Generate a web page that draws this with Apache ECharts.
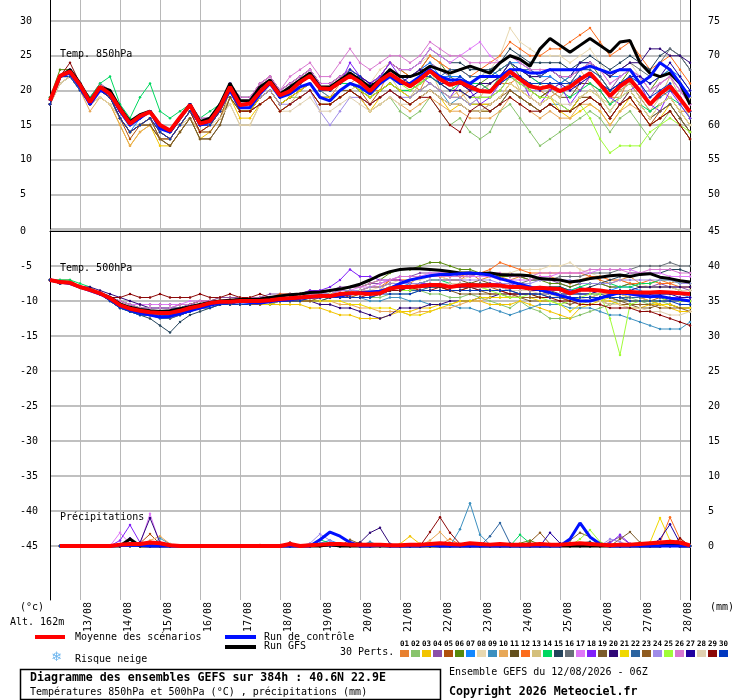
<!DOCTYPE html>
<html>
<head>
<meta charset="utf-8">
<script src="https://cdn.jsdelivr.net/npm/echarts@6/dist/echarts.min.js"></script>
<style>
html, body { margin: 0; padding: 0; background: #fff; }
#chart { width: 740px; height: 700px; }
</style>
</head>
<body>
<div id="chart"></div>
<script>
// GEFS ensemble diagram, run 12/08/2026 06Z, one value every 6 h from h=0 to h=384
const stepHours = 6;
const precipStart = 6;
const dateHours = [18, 42, 66, 90, 114, 138, 162, 186, 210, 234, 258, 282, 306, 330, 354, 378];
const dateLabels = ['13/08', '14/08', '15/08', '16/08', '17/08', '18/08', '19/08', '20/08',
    '21/08', '22/08', '23/08', '24/08', '25/08', '26/08', '27/08', '28/08'];
const leftTopTicks = [5, 10, 15, 20, 25, 30];
const rightTopTicks = [50, 55, 60, 65, 70, 75];
const leftBottomTicks = [-45, -40, -35, -30, -25, -20, -15, -10, -5, 0];
const rightBottomTicks = [0, 5, 10, 15, 20, 25, 30, 35, 40, 45];

const memberColors = ['#e8802f', '#88c46c', '#f2c400', '#8c50a8', '#b0500c', '#588a0c', '#1488ff', '#e8d8b0',
    '#3c90c0', '#e8a858', '#64501c', '#fc6c1c', '#d4c07c', '#00d860', '#24445c', '#687078', '#e078f8',
    '#8020f8', '#7c5c2c', '#300878', '#f0d800', '#2c64a0', '#905c20', '#a08ce8', '#a0fc38', '#d878d0',
    '#2000a0', '#e0d0b0', '#8c0808', '#0038c0'];

// temperature 850 hPa (°C)
const t850Mean = [18.5,22.1,22.7,20.8,18.3, 20.5,19.5,17.3,15.2,16.3, 16.9,15.0,14.2,16.1,17.9, 15.2,15.6,17.6,20.5,17.9,
    18.1,19.8,21.2,19.3,19.9, 21.2,22.1,20.3,20.2,21.2, 22.1,21.2,19.9,21.4,22.4, 21.4,20.6,21.6,22.8,21.6,
    20.8,21.2,20.5,19.9,19.8, 21.4,22.7,21.6,20.6,20.3, 20.6,19.9,20.5,21.6,22.5, 20.9,19.2,20.6,21.6,19.9,
    18.0,19.5,20.6,18.8,16.9];
const t850Control = [18.5,22,22.5,20.5,18, 20,19.5,17,15,16, 17,14.5,14,16,18, 15,15.5,17.5,20,17.5,
    17.5,19.5,21,19,19.5, 20.5,21,19,18.5,20, 21,20.5,19.5,21,22, 21,21,22,23,22,
    21.5,21.5,21,22,22, 22,23,23,22.5,22.5, 23,23,23,23,23.5, 23,22.5,23,23,21,
    22,24,23,21,19];
const t850Gfs = [18.5,22,23,21,18.5, 20.5,20,17.5,15.5,16.5, 17,15,14,16,18, 15.5,16,18,21,18.5,
    18.5,20.5,21.5,19.5,20.5, 21.5,22.5,20.5,20.5,21.5, 22.5,21.5,20.5,21.5,23, 22,22,22.5,23.5,23,
    22.5,23,23.5,23,22.5, 24,25,24.5,23.5,26, 27.5,26.5,25.5,26.5,27.5, 26.5,25.5,27,27.2,24,
    22.5,22,22.5,21,18];
const t850Perts = [
    [18,22,22,20,18, 20,19,16,14,15, 16,14,13,15,17, 15,15,17,20,18, 18,20,21,19,20, 21,22,20,19,21, 21,22,20,20,23, 22,21,20,23,22, 21,19,20,21,20, 21,21,22,21,20, 19,20,21,20,22, 21,19,19,22,20, 18,20,19,17,17],
    [18,22,23,21,18, 20,19,16,14,15, 16,14,13,15,17, 14,15,17,20,17, 17,19,20,18,19, 19,20,18,18,19, 20,19,17,18,19, 17,16,17,19,17, 15,16,14,13,14, 17,18,16,14,12, 13,14,15,16,17, 16,14,16,17,15, 13,15,17,15,13],
    [18,21,22,20,18, 19,18,15,12,14, 15,12,12,14,16, 13,14,16,19,16, 16,18,19,17,18, 19,20,18,18,19, 20,19,17,19,20, 19,18,19,20,19, 17,18,17,17,17, 18,20,19,18,17, 18,17,16,17,18, 17,15,17,19,17, 15,16,18,16,14],
    [18,22,23,21,19, 21,20,17,15,16, 17,15,14,16,18, 16,16,18,21,19, 19,21,22,20,21, 22,23,21,21,22, 23,22,21,22,23, 22,22,23,24,23, 22,22,21,21,21, 22,24,23,22,21, 22,21,21,23,23, 22,20,22,23,21, 19,21,22,20,18],
    [18,22,23,20,18, 20,19,16,13,15, 16,13,13,15,17, 14,15,17,20,17, 17,19,20,18,19, 20,21,19,19,20, 21,20,18,20,21, 20,19,20,21,20, 19,19,18,18,18, 19,21,20,19,18, 19,18,17,19,19, 18,16,18,19,17, 15,17,18,16,14],
    [19,23,23,21,18, 20,20,17,15,16, 17,15,14,16,18, 15,16,18,21,18, 18,20,21,19,20, 21,22,20,20,21, 23,22,21,22,24, 23,22,23,25,24, 22,21,20,21,22, 23,24,22,20,19, 20,21,22,23,24, 22,20,21,23,22, 20,22,23,21,19],
    [18,21,22,20,18, 20,19,16,14,16, 17,14,13,15,17, 15,15,17,20,18, 18,20,21,19,20, 21,22,20,20,21, 21,20,20,22,23, 22,22,23,24,22, 22,22,21,22,23, 22,24,24,23,22, 22,21,22,24,24, 23,22,22,23,22, 21,22,23,22,20],
    [18,22,23,21,18, 20,19,17,15,16, 17,15,14,16,18, 15,16,18,21,18, 18,20,21,20,21, 22,23,21,21,22, 23,22,21,23,24, 23,23,24,25,24, 23,23,22,22,23, 25,29,27,26,25, 25,25,24,25,26, 24,22,23,24,22, 20,21,22,21,19],
    [18,22,22,20,18, 20,19,16,14,15, 16,14,13,15,17, 15,15,17,20,18, 18,20,21,19,20, 21,22,20,19,20, 21,20,19,20,21, 20,19,20,21,20, 18,19,18,18,17, 18,20,19,18,17, 18,18,17,19,20, 19,17,19,20,18, 16,17,18,16,14],
    [18,21,22,20,17, 19,18,15,12,14, 15,13,12,14,16, 14,14,16,19,17, 17,18,19,17,18, 19,20,18,18,19, 20,19,17,18,19, 18,17,18,19,18, 17,17,16,16,16, 17,19,18,17,16, 17,16,16,18,18, 17,15,17,18,17, 15,16,17,15,13],
    [18,22,22,20,18, 20,19,16,14,15, 15,13,12,14,16, 13,13,15,19,17, 17,19,20,18,19, 20,21,19,19,20, 21,20,19,20,21, 20,20,21,22,21, 20,20,19,19,19, 20,22,21,20,19, 20,19,19,21,21, 20,18,20,21,19, 17,18,19,17,15],
    [18,22,23,21,18, 20,19,17,15,16, 17,15,14,16,18, 15,16,18,21,19, 19,21,22,20,21, 22,23,21,21,22, 23,22,21,22,24, 23,22,23,25,24, 23,23,22,23,24, 25,27,26,25,25, 26,26,27,28,29, 27,25,26,27,25, 23,24,25,23,21],
    [18,21,22,20,18, 19,18,16,14,15, 16,14,13,15,16, 14,15,17,18,15, 15,18,19,17,18, 20,21,19,19,20, 20,21,19,21,22, 20,19,21,23,20, 19,20,18,19,21, 22,23,20,19,21, 20,19,21,23,21, 19,18,20,21,19, 17,19,22,19,16],
    [19,22,23,21,19, 21,22,18,16,19, 21,17,16,17,18, 16,17,18,21,19, 19,20,21,19,20, 21,22,20,20,21, 21,20,19,20,21, 20,20,21,22,21, 20,21,21,21,20, 22,23,23,22,21, 21,20,19,20,21, 20,18,19,20,18, 17,18,19,18,16],
    [18,22,23,21,18, 20,19,17,15,16, 17,15,14,16,18, 15,16,18,21,19, 19,21,22,20,21, 22,23,21,21,22, 23,22,21,22,24, 23,23,24,26,25, 24,24,23,23,23, 24,26,25,24,24, 24,24,23,24,25, 24,23,24,25,24, 23,25,26,25,23],
    [18,22,23,21,18, 20,19,17,15,16, 17,15,14,16,18, 15,16,18,21,18, 18,20,21,19,20, 21,22,20,20,21, 22,21,20,21,22, 21,21,22,23,22, 21,21,20,20,21, 22,24,23,22,22, 23,22,22,23,24, 23,22,23,24,23, 22,24,26,25,23],
    [18,22,23,21,18, 20,19,17,15,16, 17,15,14,16,18, 15,16,18,21,19, 19,21,22,20,21, 22,23,21,21,22, 23,22,21,22,24, 23,23,24,26,25, 24,25,26,27,25, 24,25,24,23,22, 23,22,22,23,24, 23,21,22,23,22, 20,21,22,20,18],
    [18,22,23,21,18, 20,19,17,15,16, 17,14,13,15,17, 15,15,17,20,18, 18,20,21,19,20, 21,22,20,20,21, 24,22,21,22,24, 22,21,22,21,20, 19,21,20,18,19, 21,23,22,19,18, 20,21,18,20,22, 21,19,18,20,21, 18,17,20,18,16],
    [18,22,22,20,18, 20,19,16,14,15, 16,13,12,14,16, 13,13,15,19,17, 17,19,20,18,19, 20,21,19,19,20, 20,19,18,19,20, 19,18,19,20,19, 18,18,17,17,17, 18,20,19,18,17, 18,17,17,19,19, 18,16,18,20,18, 16,17,18,16,14],
    [18,22,23,21,18, 20,19,17,15,16, 17,15,14,16,18, 15,16,18,21,18, 18,20,21,19,20, 21,22,20,20,21, 22,21,20,21,22, 21,21,22,23,22, 21,21,20,21,21, 22,24,23,22,22, 23,22,22,24,24, 23,22,23,24,24, 26,26,25,25,24],
    [18,22,23,21,18, 20,19,16,14,15, 16,14,13,15,17, 14,15,17,20,17, 17,19,20,18,19, 20,21,19,19,20, 21,20,19,20,21, 20,19,20,21,20, 19,19,18,18,18, 19,21,20,19,18, 19,17,17,19,20, 19,17,19,20,18, 16,18,19,17,15],
    [18,22,23,21,18, 20,19,17,15,16, 17,15,14,16,18, 15,16,18,21,18, 18,20,21,19,20, 21,22,20,20,21, 22,21,20,21,23, 22,21,22,23,22, 23,23,22,22,22, 23,24,23,23,22, 23,22,21,23,23, 22,20,21,22,20, 18,19,20,19,17],
    [18,22,23,21,18, 20,19,16,14,15, 15,13,13,15,17, 14,14,16,20,17, 17,18,19,17,18, 19,20,18,18,19, 20,19,18,19,20, 19,18,19,20,19, 18,18,17,17,18, 19,20,19,18,17, 18,17,17,18,19, 18,16,18,19,17, 15,16,17,15,13],
    [18,22,23,21,18, 20,19,17,15,16, 17,15,14,16,18, 15,16,18,21,18, 18,19,20,18,18, 19,20,17,15,17, 19,19,18,19,20, 19,19,20,21,20, 19,19,18,19,19, 20,22,21,20,20, 21,20,20,21,22, 21,19,21,22,20, 18,20,21,19,17],
    [18,22,23,21,18, 20,19,17,15,16, 17,15,14,16,18, 15,16,18,21,18, 18,20,21,19,20, 21,22,20,20,21, 22,21,20,21,22, 21,20,21,22,21, 20,20,19,19,19, 20,22,21,20,19, 19,18,17,18,16, 13,11,12,12,12, 14,15,16,15,14],
    [18,22,23,21,18, 20,19,17,15,16, 17,15,14,16,18, 16,16,18,21,19, 19,21,22,20,22, 23,24,22,22,24, 26,24,23,24,25, 25,24,25,27,26, 25,25,24,24,24, 24,25,24,23,23, 23,22,22,23,24, 23,21,22,23,22, 20,21,22,20,18],
    [18,22,23,21,18, 20,19,17,15,16, 17,15,14,16,18, 15,16,18,21,18, 18,20,21,19,20, 21,22,20,20,21, 22,22,21,21,22, 21,22,23,23,21, 20,20,19,20,20, 21,22,22,21,20, 21,21,20,21,22, 21,20,21,22,22, 21,22,24,22,20],
    [18,21,22,20,18, 19,18,16,14,15, 16,14,13,15,17, 14,15,16,18,15, 15,18,19,17,17, 18,19,17,17,18, 19,18,17,18,19, 18,18,19,20,19, 18,18,17,17,18, 19,21,20,19,18, 19,18,18,19,20, 19,17,19,20,18, 16,18,19,17,15],
    [18,22,24,21,18, 20,19,16,14,15, 16,14,13,15,17, 14,15,17,20,17, 17,18,19,17,18, 19,20,18,18,19, 20,19,18,19,20, 19,18,19,19,17, 15,14,17,18,17, 18,19,18,17,17, 18,17,17,18,19, 18,16,18,19,17, 15,16,17,15,13],
    [18,22,22,20,18, 20,19,16,14,15, 16,14,13,15,17, 15,15,17,20,18, 18,20,21,19,20, 21,22,20,20,21, 23,22,20,21,22, 21,21,22,22,21, 21,22,21,20,20, 21,22,22,21,21, 21,21,21,22,22, 21,20,21,22,21, 19,20,21,19,17]
];

// temperature 500 hPa (°C)
const t500Mean = [-7,-7.3,-7.4,-8,-8.4,-8.9,-9.6,-10.6,-11.1,-11.4, -11.6,-11.7,-11.7,-11.4,-11,-10.7,-10.3,-10.1,-10.1,-10,
    -10,-10,-9.9,-9.7,-9.6,-9.5,-9.4,-9.3,-9.3,-9, -8.9,-8.9,-9,-8.9,-8.2,-8,-8,-7.9,-7.7,-7.7,
    -8,-7.8,-7.7,-7.8,-7.7,-7.8,-8,-8,-8.2,-8.1, -8.2,-8.3,-8.9,-8.4,-8.4,-8.5,-8.7,-8.7,-8.7,-8.8,
    -8.8,-8.7,-8.8,-8.9,-9];
const t500Control = [-7,-7.3,-7.5,-8,-8.5,-9,-9.7,-10.7,-11.3,-11.7,-12,-12.3,-12.2,-11.8,-11.4,-11,-10.6,-10.3,-10.2,-10.1,
    -10.2,-10.3,-10.1,-9.9,-9.8,-9.6,-9.5,-9.4,-9.3,-9.2,-9,-8.8,-8.7,-8.6,-8.2,-7.5,-7,-6.7,-6.4,-6.2,
    -6.2,-6.1,-6,-6.1,-6.3,-6.8,-7.2,-7.6,-8,-8.4,-8.8,-9.2,-9.6,-10,-10,-9.6,-9.2,-8.8,-9,-9.2,
    -9.4,-9.3,-9.6,-9.8,-10];
const t500Gfs = [-7,-7.3,-7.4,-8,-8.4,-8.9,-9.5,-10.4,-10.9,-11.2,-11.4,-11.5,-11.4,-11.1,-10.8,-10.5,-10.2,-10,-9.9,-9.8,
    -9.8,-9.7,-9.5,-9.3,-9.1,-9,-8.8,-8.7,-8.5,-8.3,-8,-7.6,-7,-6.3,-5.8,-5.5,-5.4,-5.4,-5.5,-5.6,
    -5.8,-6,-6,-6.1,-6,-6.2,-6.3,-6.3,-6.4,-6.8,-6.9,-7,-7.3,-7.1,-6.8,-6.6,-6.4,-6.3,-6.5,-6.2,
    -6.1,-6.6,-6.8,-7.1,-7.3];
const t500Perts = [
    [-7,-7.5,-7.5,-8,-8.5,-9,-9.5,-10,-10.5,-11,-11,-11,-11,-11,-10.5,-10,-10,-9.5,-9.5,-9.5, -10,-10,-9.5,-9.5,-9,-9.5,-9.5,-9,-9.5,-9,-8.5,-9,-9,-8.5,-7,-7,-7.5,-6.5,-6.5,-6.5, -7,-7,-6,-7,-6.5,-6.5,-7,-6.5,-7,-6.5,-6.5,-7,-7.5,-7,-6.5,-7,-7.5,-7,-6.5,-7.5, -7.5,-7,-7.5,-7,-7.5],
    [-7,-7.5,-7.5,-8,-8.5,-9,-9.5,-10.5,-11,-11.5,-12,-12,-12,-11.5,-11,-11,-10.5,-10.5,-10,-10, -10,-10.5,-10,-10,-10,-9.5,-10,-10,-9.5,-9.5,-9.5,-9.5,-9.5,-9.5,-9,-9,-9,-8.5,-9,-9, -9.5,-9.5,-9,-9.5,-10,-10.5,-11,-10,-11,-11.5,-12.5,-12.5,-12.5,-12,-11.5,-11,-10.5,-10,-9.5,-10, -10.5,-10,-10.5,-11,-11],
    [-7,-7.5,-7.5,-8,-8.5,-9,-10,-11,-11.5,-12,-12,-12,-12,-12,-11.5,-11,-11,-10.5,-10.5,-10.5, -10.5,-10.5,-10.5,-10.5,-10.5,-10.5,-11,-11,-11.5,-12,-12,-12.5,-12.5,-12.5,-12,-11.5,-11.5,-11,-11,-10.5, -10.5,-10,-10,-10,-10.5,-10.5,-10.5,-10,-10.5,-11,-11.5,-12,-12.5,-11,-10.5,-10,-10,-10.5,-11,-11, -10.5,-10.5,-11,-11.5,-11.5],
    [-7,-7,-7.5,-8,-8.5,-9,-9.5,-10,-10.5,-11,-11,-11,-11,-10.5,-10.5,-10,-10,-9.5,-9.5,-9.5, -9.5,-9.5,-9,-9,-9,-9,-8.5,-8.5,-8.5,-8,-8,-8,-7.5,-7.5,-7,-6.5,-6.5,-6,-6,-6, -6,-6.5,-6.5,-6,-6,-6.5,-6,-6.5,-7,-7,-7,-7.5,-8,-7.5,-7.5,-7.5,-8,-8,-7.5,-8, -8,-7.5,-8,-8,-8.5],
    [-7,-7.5,-7.5,-8,-8.5,-9,-9.5,-10.5,-11,-11.5,-11.5,-12,-12.5,-12,-11.5,-11,-10.5,-10.5,-10.5,-10, -10,-10,-10,-10,-9.5,-9.5,-9.5,-9.5,-9.5,-9,-9,-9,-9,-9,-8.5,-8.5,-8,-8,-8,-8, -8.5,-8.5,-8,-8,-8,-8.5,-9,-9,-9,-9,-9.5,-9.5,-10,-9.5,-9.5,-9,-9,-9,-9.5,-9.5, -10,-9.5,-9.5,-10,-10],
    [-7,-7,-7,-8,-8.5,-9,-9.5,-10.5,-11,-11,-11.5,-11.5,-11.5,-11,-10.5,-10.5,-10,-10,-10,-9.5, -9.5,-9.5,-9.5,-9.5,-9,-9,-9,-9,-8.5,-8.5,-8,-8,-7.5,-7,-6,-5.5,-5.5,-5,-4.5,-4.5, -5,-5.5,-5.5,-6,-6,-6.5,-6.5,-6.5,-7,-7,-7.5,-7.5,-8,-7.5,-7.5,-7.5,-8,-8,-7.5,-8, -8,-8,-8,-8.5,-8.5],
    [-7,-7.5,-7.5,-8,-8.5,-9,-10,-11,-11.5,-12,-12,-12,-12,-12,-11.5,-11,-10.5,-10.5,-10,-10, -10,-10,-10,-9.5,-9.5,-9.5,-9.5,-9.5,-9,-9,-9,-9,-9,-8.5,-8,-8,-7.5,-7.5,-7.5,-7.5, -8,-7.5,-7.5,-7.5,-7.5,-7.5,-8,-8,-8,-8,-8,-8,-8.5,-8,-8.5,-8.5,-8.5,-8,-8,-8.5, -9,-9,-9,-9,-9.5],
    [-7,-7,-7.5,-8,-8.5,-9,-9.5,-10.5,-11,-11.5,-11.5,-11.5,-11.5,-11,-10.5,-10.5,-10,-10,-10,-10, -9.5,-9.5,-9.5,-9.5,-9.5,-9,-9,-9,-9,-8.5,-8.5,-8.5,-8.5,-8,-7.5,-7,-7,-7,-6.5,-6.5, -7,-7,-6.5,-6.5,-6,-6,-6,-5.5,-5.5,-5.5,-5,-5,-4.5,-5.5,-6,-6.5,-7,-7,-7.5,-7.5, -8,-8,-8,-8.5,-8.5],
    [-7,-7.5,-7.5,-8,-8.5,-9,-9.5,-10.5,-11,-11.5,-11.5,-12,-12,-11.5,-11,-11,-10.5,-10.5,-10,-10, -10,-10,-10,-10,-10,-10,-9.5,-9.5,-9.5,-9.5,-9.5,-9.5,-10,-10,-9.5,-9.5,-10,-10,-10.5,-10.5, -10.5,-11,-11,-11.5,-11,-11.5,-12,-11.5,-11,-10.5,-10.5,-10.5,-11,-11,-11,-11.5,-12,-12,-12.5,-13, -13.5,-14,-14,-14,-13],
    [-7,-7.5,-7.5,-8,-8.5,-9,-9.5,-10.5,-11,-11,-11.5,-11.5,-11.5,-11,-11,-10.5,-10.5,-10,-10,-10, -10,-10,-10,-10,-10,-10,-10,-10,-10,-10.5,-10.5,-11,-11,-11.5,-11.5,-11.5,-12,-11.5,-11.5,-11, -11,-10.5,-10,-10,-9.5,-9.5,-9.5,-9,-9,-9,-8.5,-8.5,-8.5,-8.5,-8.5,-8.5,-9,-9,-9.5,-9.5, -10,-10.5,-10.5,-11,-11],
    [-7,-7.5,-7.5,-8,-8.5,-9,-9.5,-10,-10.5,-10.5,-10.5,-10.5,-10.5,-10.5,-10.5,-10,-10,-10,-10,-10, -10,-10,-10,-10,-9.5,-9.5,-9.5,-9,-9,-9,-8.5,-8.5,-8,-8,-7.5,-7.5,-7.5,-7.5,-7,-7, -7,-7,-7.5,-7,-7.5,-7.5,-8,-8,-8.5,-8.5,-8.5,-9,-9.5,-9.5,-9.5,-9.5,-9.5,-10,-10,-10, -10,-10,-10,-10,-10],
    [-7,-7.5,-7.5,-8,-8.5,-9,-9.5,-10.5,-11,-11.5,-11.5,-11.5,-11.5,-11,-10.5,-10.5,-10,-10,-10,-9.5, -9.5,-9.5,-9.5,-9,-9,-9,-9,-9,-9,-8.5,-8.5,-8.5,-8,-8,-7,-7,-7,-6.5,-6.5,-6.5, -6.5,-6.5,-6,-6,-5.5,-4.5,-5,-5.5,-6,-6,-6,-6,-6,-6,-6.5,-6.5,-7,-7,-7.5,-7.5, -7,-7.5,-7.5,-8,-8],
    [-7,-7.5,-7.5,-8,-8.5,-9,-9.5,-10.5,-11,-11.5,-12,-12,-12,-11.5,-11,-10.5,-10.5,-10.5,-10,-10, -10,-10,-10,-10,-9.5,-9.5,-9.5,-9.5,-9.5,-9.5,-9.5,-9,-9,-9,-8.5,-8.5,-8.5,-8.5,-8,-8, -8,-8,-8,-8,-8.5,-8.5,-8.5,-9,-9,-9,-9,-9.5,-9.5,-9.5,-9.5,-9,-9,-9,-9.5,-9.5, -9.5,-9.5,-10,-10,-10],
    [-7,-7,-7,-7.5,-8,-9,-9.5,-10,-10.5,-11,-11,-11,-11,-11,-10.5,-10.5,-10.5,-10,-10,-10, -10,-10,-9.5,-9.5,-9.5,-9.5,-9,-9,-9,-9,-8.5,-8.5,-8.5,-8.5,-8,-7.5,-7.5,-7.5,-7,-7, -7.5,-7.5,-7.5,-7.5,-7.5,-8,-8,-8,-8,-8.5,-8,-8,-8.5,-8,-7.5,-7.5,-7.5,-8,-8,-7.5, -7.5,-7,-7,-7.5,-7.5],
    [-7,-7.5,-7.5,-8,-8.5,-9,-10,-11,-11.5,-12,-12.5,-13.5,-14.5,-13,-12,-11.5,-11,-10.5,-10.5,-10.5, -10.5,-10.5,-10.5,-10,-10,-10,-10,-10,-9.5,-9.5,-9.5,-9.5,-9.5,-9,-8.5,-8.5,-8.5,-8,-8,-8, -8,-8,-7.5,-7.5,-7.5,-8,-8,-8,-8.5,-8.5,-8,-8,-8.5,-8.5,-8,-7.5,-7,-6.5,-6,-6, -6,-6,-5.5,-5.5,-6],
    [-7,-7.5,-7.5,-8,-8.5,-9,-9.5,-10.5,-11,-11.5,-11.5,-11.5,-11.5,-11,-11,-10.5,-10.5,-10,-10,-10, -10,-10,-9.5,-9.5,-9.5,-9.5,-9.5,-9,-9,-9,-9,-9,-9,-8.5,-8,-8,-8,-7.5,-7.5,-7.5, -7.5,-7.5,-7.5,-7.5,-7.5,-7.5,-7.5,-7.5,-7,-7,-7,-6.5,-6.5,-6.5,-6,-6,-6,-5.5,-5.5,-5, -5,-5,-4.5,-5,-5],
    [-7,-7.5,-7.5,-8,-8.5,-9,-9.5,-10,-10.5,-10.5,-10.5,-10.5,-10.5,-10.5,-10,-10,-10,-10,-10,-10, -10,-10,-9.5,-9.5,-9.5,-9.5,-9,-9,-9,-8.5,-8.5,-8,-8,-7.5,-7,-6.5,-6.5,-6.5,-6,-6, -6,-6,-6.5,-6.5,-6.5,-7,-7,-7,-7,-6.5,-6.5,-6,-6,-6,-6,-5.5,-5.5,-5.5,-5.5,-6, -6,-6,-6.5,-6.5,-6.5],
    [-7,-7.5,-7.5,-8,-8.5,-9,-9.5,-10.5,-11,-11.5,-12,-12,-12,-11.5,-11,-10.5,-10.5,-10,-10,-10, -10,-9.5,-9.5,-9.5,-9,-9,-8.5,-8.5,-8,-7,-5.5,-6.5,-6.5,-7,-7,-7,-7.5,-7.5,-7.5,-7.5, -8,-8,-8,-8,-7.5,-7.5,-7.5,-8,-8,-8,-8.5,-8.5,-8.5,-9,-9,-8.5,-8.5,-8.5,-9,-9, -9,-9.5,-9.5,-9.5,-9.5],
    [-7,-7.5,-7.5,-8,-8.5,-9,-9.5,-10.5,-11,-11.5,-11.5,-12,-12,-11.5,-11,-11,-10.5,-10.5,-10.5,-10, -10,-10,-10,-10,-10,-9.5,-9.5,-9.5,-9.5,-9,-9,-9,-9,-9,-8.5,-8.5,-8.5,-8.5,-8.5,-8.5, -8.5,-9,-9,-9,-9,-9,-9.5,-9.5,-10,-10,-10,-10,-10.5,-10,-10,-9.5,-9.5,-10,-10.5,-11, -11,-10.5,-10.5,-11,-11],
    [-7,-7.5,-7.5,-8,-8,-8.5,-9,-9.5,-10,-10.5,-11,-11,-11,-11,-10.5,-10.5,-10,-10,-10,-10, -10,-10,-10,-10,-10,-10,-10,-10.5,-10.5,-11,-11,-11.5,-12,-12.5,-12,-11,-11,-11,-10.5,-10.5, -10,-10,-10,-9.5,-9.5,-9,-9,-9,-9,-9,-9,-9,-9,-9,-9,-8.5,-8.5,-8.5,-8.5,-8, -8,-8,-8,-8,-8],
    [-7,-7.5,-7.5,-8,-8.5,-9,-9.5,-10.5,-11,-11.5,-11.5,-11.5,-11.5,-11.5,-11,-10.5,-10.5,-10.5,-10.5,-10.5, -10.5,-10.5,-10.5,-10,-10,-10,-10,-10,-10,-10,-10.5,-10.5,-11,-11,-11,-11.5,-12,-12,-11.5,-11, -10.5,-10,-10,-9.5,-9.5,-9.5,-9.5,-9.5,-9.5,-10,-10,-10.5,-11.5,-10.5,-10,-10,-9.5,-9.5,-10,-10, -10,-10.5,-10.5,-11,-11],
    [-7,-7.5,-7.5,-8,-8.5,-9,-10,-11,-11.5,-12,-12,-12.5,-12.5,-12,-11.5,-11,-10.5,-10.5,-10.5,-10, -10,-10,-10,-10,-9.5,-9.5,-9.5,-9.5,-9.5,-9.5,-9,-9,-9,-9,-8.5,-8.5,-8.5,-8.5,-8,-8, -8,-8,-8,-8.5,-8.5,-8.5,-8.5,-9,-9,-9,-9,-9,-9,-9,-9,-9,-9.5,-9.5,-9.5,-9.5, -9.5,-9.5,-10,-10,-10],
    [-7,-7.5,-7.5,-8,-8.5,-9,-9.5,-10.5,-11,-11.5,-11.5,-12,-12,-12,-11.5,-11,-10.5,-10.5,-10.5,-10.5, -10.5,-10.5,-10,-10,-10,-10,-10,-9.5,-9.5,-9.5,-9.5,-9,-9,-9,-8.5,-8,-8,-8,-8,-8, -8.5,-8.5,-8.5,-8.5,-9,-9,-9,-9.5,-9.5,-9.5,-9.5,-9.5,-10,-10,-10,-10,-10.5,-10.5,-10.5,-10.5, -10.5,-11,-11,-11,-11.5],
    [-7,-7.5,-7.5,-8,-8.5,-9,-9.5,-10.5,-11,-11,-11,-11,-11,-11,-10.5,-10.5,-10,-10,-10,-10, -10,-9.5,-9.5,-9.5,-9.5,-9,-9,-9,-9,-8.5,-8.5,-8.5,-8,-8,-7.5,-7.5,-7.5,-7.5,-7,-7, -7,-7,-7,-7,-7,-7.5,-7.5,-7.5,-7.5,-7,-7,-7,-7,-7.5,-7.5,-7.5,-7.5,-7,-7,-7, -7,-7,-7,-7.5,-7.5],
    [-7,-7.5,-7.5,-8,-8.5,-9,-9.5,-10.5,-11,-11.5,-12,-12,-12,-11.5,-11,-10.5,-10.5,-10,-10,-10, -10,-10,-10,-9.5,-9.5,-9.5,-9.5,-9.5,-9,-9,-9,-9,-9,-9,-8.5,-8.5,-8.5,-8,-8,-8, -8,-8,-8,-8,-8.5,-9,-9.5,-9.5,-9,-9.5,-10,-10.5,-10,-9.5,-9,-9,-12.5,-17.7,-10.5,-10, -10,-10,-9.5,-10,-10],
    [-7,-7.5,-7.5,-8,-8.5,-9,-9.5,-10,-10.5,-11,-11,-11,-11,-10.5,-10.5,-10,-10,-10,-10,-9.5, -9.5,-9.5,-9.5,-9.5,-9,-9,-9,-9,-8.5,-8.5,-8,-8,-7.5,-7,-7,-6.5,-6.5,-6.5,-6.5,-6.5, -6.5,-6.5,-6.5,-6,-6,-6,-6.5,-6.5,-6.5,-6,-6,-6,-6,-6,-5.5,-5.5,-5.5,-5.5,-6,-6, -5.5,-5.5,-5.5,-6,-6],
    [-7,-7.5,-7.5,-8,-8.5,-9,-9.5,-10.5,-11,-11.5,-11.5,-11.5,-12,-11.5,-11,-10.5,-10.5,-10.5,-10,-10, -10,-10,-10,-10,-10,-9.5,-9.5,-9.5,-9.5,-9.5,-9,-9,-9,-9,-8.5,-8.5,-8,-8,-8,-8, -8,-8,-8,-8,-8,-8,-8.5,-8.5,-8.5,-8.5,-9,-9,-9.5,-9.5,-9.5,-9.5,-9,-9,-9,-9, -9,-9,-9,-9.5,-9.5],
    [-7,-7.5,-7.5,-8,-8.5,-9,-9.5,-10.5,-11,-11.5,-11.5,-11.5,-11.5,-11.5,-11,-10.5,-10.5,-10,-10,-10, -10,-10,-10,-10,-9.5,-9.5,-9.5,-9.5,-9,-9,-9,-8.5,-8.5,-8.5,-8,-8,-8,-8,-7.5,-7.5, -7.5,-7.5,-8,-8,-8,-8,-8.5,-8.5,-8.5,-9,-9,-9,-9.5,-9.5,-10,-10,-10.5,-10.5,-11,-11, -11.5,-11.5,-12,-12,-11.5],
    [-7,-7.5,-7.5,-8,-8.5,-9,-9.5,-9.5,-9,-9.5,-9.5,-9,-9.5,-9.5,-9.5,-9,-9.5,-9.5,-9,-9.5, -9.5,-9,-9.5,-9.5,-9.5,-9,-9.5,-9.5,-9.5,-9,-9.5,-9.5,-9,-9,-8.5,-8.5,-8,-8.5,-8.5,-8, -8.5,-8.5,-8,-8.5,-8.5,-8.5,-9,-9,-9,-9.5,-9.5,-10,-10,-10.5,-10.5,-10.5,-11,-11,-11,-11.5, -11.5,-12,-12.5,-13,-13.5],
    [-7,-7.5,-7.5,-8,-8.5,-9,-10,-11,-11.5,-12,-12,-12,-12,-12,-11.5,-11,-11,-10.5,-10.5,-10.5, -10.5,-10,-10,-10,-10,-10,-9.5,-9.5,-9.5,-9.5,-9.5,-9.5,-9.5,-9,-9,-9,-9,-8.5,-8.5,-8.5, -8.5,-8.5,-8.5,-8.5,-8.5,-8.5,-8.5,-9,-9,-9,-9.5,-9.5,-9.5,-9.5,-9.5,-9.5,-9.5,-9.5,-10,-10, -10,-10,-10,-10.5,-10.5]
];

// precipitation (mm), from h=6 to h=384
const precipMean = [0,0,0,0,0,0,0.2,0.3, 0.3,0.5,0.4,0.1,0,0,0,0, 0,0,0,0,0,0,0,0.3, 0,0.1,0.2,0.3,0.3,0.2,0.2,0.2,
    0.2,0.1,0.1,0.2,0.2,0.3,0.4,0.3, 0.2,0.4,0.3,0.2,0.3,0.2,0.2,0.2, 0.3,0.2,0.2,0.3,0.4,0.3,0.2,0.1, 0.2,0.2,0.3,0.4,0.5,0.6,0.5,0.1];
const precipControl = [0,0,0,0,0,0,0.1,0.1, 0.1,0,0,0,0,0,0,0, 0,0,0,0,0,0,0,0, 0,0,0.9,2.0,1.4,0.5,0,0,
    0.1,0,0,0,0,0.1,0,0, 0,0,0,0,0,0,0,0, 0,0,0,1.0,3.3,1.3,0.3,0, 0,0,0,0,0,0,0,0];
const precipGfs = [0,0,0,0,0,0,0,1.0, 0,0,0,0,0,0,0,0, 0,0,0,0,0,0,0,0, 0,0,0,0.2,0,0,0,0,
    0,0,0,0,0,0,0,0, 0,0,0,0,0,0,0,0, 0,0,0,0,0,0,0,0, 0,0,0,0,0,0.4,0,0];
const precipPerts = [
    [0,0,0,0,0,0,0,0, 0,0,0,0,0,0,0,0, 0,0,0,0,0,0,0,0, 0,0,0,0,0,0,0,0, 0,0,0,0,0,0,0.2,1.0, 0.2,0,0,0,0,0,0,0, 0,0,0,0,0,0,0,0, 0,0,0,0,0,0,0,0],
    [0,0,0,0,0,0,0,0, 0,0,0,0,0,0,0,0, 0,0,0,0,0,0,0,0, 0,0,0,0,0,0,0,0, 0,0,0,0,0,0,0,0, 0,0,0,0,0,0,0,0, 0,0,0,0,0,0,0,0, 0,0.3,0.5,0,0,0,0,0],
    [0,0,0,0,0,0,0,0, 0,0,0,0,0,0,0,0, 0,0,0,0,0,0,0,0, 0,0,0,0,0,0,0,0, 0,0,0.3,1.4,0.3,0,0,0, 0,0,0,0,0,0,0,0, 0,0,0,0,0,0,0.3,0, 0,0,0,0,0,0,0,0],
    [0,0,0,0,0,0,0,0, 0,0,0,0,0,0,0,0, 0,0,0,0,0,0,0,0, 0,0,0,0,0,0,0,0, 0,0,0,0,0,0,0,0, 0,0,0,0,0,0,0,0, 0,0,0,0,0,0,0,0.6, 1.3,0.3,0,0,0,0,0,0],
    [0,0,0,0,0,0,0,0, 0.4,1.7,0.3,0,0,0,0,0, 0,0,0,0,0,0,0,0, 0,0,0,0,0,0,0,0, 0,0,0,0,0,0,0,0, 0,0,0,0,0,0,0,0, 0,0,0,0,0,0,0,0, 0,0,0,0,0,0,0,0],
    [0,0,0,0,0,0,0,0, 0,0,0,0,0,0,0,0, 0,0,0,0,0,0,0,0, 0,0,0,0,0,0,0,0, 0,0,0,0,0,0,0,0, 0,0,0,0,0,0,0.4,0.8, 0.2,0,0,0,0,0,0,0, 0,0,0,0,0,0,0,0],
    [0,0,0,0,0,0,0,0, 0,0,0,0,0,0,0,0, 0,0,0,0,0,0,0,0, 0,0,0.4,0.8,0.3,0,0,0, 0,0,0,0,0,0,0,0, 0,0,0,0,0,0,0,0, 0,0,0,0,0,0,0,0, 0,0,0,0,0,0,0,0],
    [0,0,0,0,0,0,0,0, 0,0,0,0,0,0,0,0, 0,0,0,0,0,0,0,0, 0,0,0,0,0,0,0,0, 0,0,0,0,0,0,0,0, 0,0.4,0,0,0,0,0,0, 0,0,0,0,0,0,0,0, 0,0,0,0,0,0,0,0],
    [0,0,0,0,0,0,0,0, 0,0,1.1,0.3,0,0,0,0, 0,0,0,0,0,0,0,0, 0,0,0,0,0,0,0,0.6, 0,0,0,0,0,0,0,0, 2.4,6.1,1.6,0.2,0,0,0,0, 0,0,0,0,0,0,0,0, 0,0,0,0,0,0,0,0],
    [0,0,0,0,0,0,0,0, 0,0.8,1.4,0.3,0,0,0,0, 0,0,0,0,0,0,0,0, 0,0,0,0,0,0,0,0, 0,0,0,0,0,0.8,2.0,0.5, 0,0,0,0,0,0,0.4,0, 0,0,0,0,0,0,0,0, 0,0,0,0,0,0,0,0],
    [0,0,0,0,0,0,0,0, 0,0,0,0,0,0,0,0, 0,0,0,0,0,0,0,0, 0,0,0,0,0,0.3,0.5,0, 0,0,0,0,0,0,0,0, 0,0,0,0,0,0,0,0, 0,0,0,0,0,0,0,0, 0,0,0,0,0,0,0,0],
    [0,0,0,0,0,0,0,0, 0,0,0,0,0,0,0,0, 0,0,0,0,0,0,0,0, 0,0,0,0,0,0,0,0, 0,0,0,0,0,0,0,0, 0,0,0,0,0,0,0,0, 0,0,0,0,0,0,0,0, 0,0,0,0,0.5,4.1,1.0,0],
    [0,0,0,0,0,0,0,0, 0,0,0,0,0,0,0,0, 0,0,0,0,0,0,0,0, 0,0,0,0,0,0,0,0, 0,0,0,0,0.4,0,0,0, 0,0,0,0,0,0,0,0, 0.3,0,0,0,0,0,0,0, 0,0,0,0,0,0,0,0],
    [0,0,0,0,0,0,0,0, 0,0,0,0,0,0,0,0, 0,0,0,0,0,0,0,0, 0,0,0.9,0.4,0,0,0,0, 0,0,0,0,0,0,0,0, 0,0,0,0,0,0,1.6,0.4, 0,0,0,0,0,0,0,0, 0,0,0,0,0,0,0,0],
    [0,0,0,0,0,0,0,0, 0,0,0,0,0,0,0,0, 0,0,0,0,0,0,0,0, 0,0,0,0,0,0,0,0, 0,0,0,0,0,0,0,0, 0,0,0,0,0,0,0,0, 0,0,0,0,0.4,0.6,0,0, 0,0,0,0,0,0,0,0],
    [0,0,0,0,0,0,0,0, 0,0,0,0,0,0,0,0, 0,0,0,0,0,0,0,0, 0,0,0,0,0,0,0,0, 0,0,0,0,0,0,0,0, 0,0,0,0,0.3,0,0,0, 0,0,0,0,0,0,0,0, 0,0,0,0,0,0,0,0],
    [0,0,0,0,0,0,1.9,0.3, 0.2,4.6,0.3,0,0,0,0,0, 0,0,0,0,0,0,0,0, 0,0,0,0,0,0,0,0, 0,0,0,0,0,0,0,0, 0,0,0,0,0,0,0,0, 0,0,0,0,0,0,0,0, 0,0,0,0,0,0,0,0],
    [0,0,0,0,0,0,0.8,3.0, 0.5,0,0,0,0,0,0,0, 0,0,0,0,0,0,0,0, 0,0,0,0,0,0,0,0, 0,0,0,0,0,0,0,0, 0,0,0,0,0,0,0,0, 0,0,0,0,0,0,0,0.4, 1.6,0.3,0,0,0,0,0,0],
    [0,0,0,0,0,0,0,0, 0,0,0,0,0,0,0,0, 0,0,0,0,0,0,0,0, 0,0,0,0,0,0.9,0.3,0, 0,0,0,0,0,0,0,0, 0,0,0,0,0,0,0,0, 0,0,0,0.8,1.9,1.3,0,0, 1.0,2.0,0.5,0,0,0,0,0],
    [0,0,0,0,0,0,0,0, 0.5,4.0,0.5,0,0,0,0,0, 0,0,0,0,0,0,0,0, 0,0,0,0,0,0,0.5,1.9, 2.6,0.3,0,0,0,0,0,0, 0,0,0,0,0,0,0,0, 0,0,0,0,0,0,0,0, 0,0,0,0,0,0,0,0],
    [0,0,0,0,0,0,0,0, 0,0,0,0,0,0,0,0, 0,0,0,0,0,0,0,0, 0,0,0,0,0,0,0,0, 0,0,0,0,0,0,0,0, 0,0,0,0,0,0,0,0, 0,0,0,0,0,0,0,0, 0,0,0,0.5,4.0,0.8,0,0],
    [0,0,0,0,0,0,0,0, 0,0,0,0,0,0,0,0, 0,0,0,0,0,0,0,0, 0,0,0,0,0,0,0,0, 0,0,0,0,0,0,0,0, 0,0,0,1.4,3.3,0.4,0,0, 0,0,0,0,0,0,0,0, 0,0,0,0,0,0,0,0],
    [0,0,0,0,0,0,0,0, 0,0,0,0,0,0,0,0, 0,0,0,0,0,0,0,0, 0,0,0,0,0,0,0,0, 0,0,0,0,0,0,0,0, 0,0,0,0,0,0,0,0.6, 1.9,0.3,0,0,0,0,0,0, 0,0,0,0,0,0,0,0],
    [0,0,0,0,0,0,0,0, 0,0,0,0,0,0,0,0, 0,0,0,0,0,0,0,0, 0,0.4,1.7,0.8,0,0,0,0, 0,0,0,0,0,0,0,0, 0,0,0,0,0,0,0,0, 0,0,0,0,0,0,0,1.0, 0.6,0,0,0,0,0,0,0],
    [0,0,0,0,0,0,0,0, 0,0,0,0,0,0,0,0, 0,0,0,0,0,0,0,0, 0,0,0,0,0,0,0,0, 0,0,0,0,0,0,0,0, 0,0,0,0,0,0,0,0, 0,0,0,0,1.0,2.3,0.6,0, 0,0,0,0,0,0,0,0],
    [0,0,0,0,0,0,0,0, 0,0,0,0,0,0,0,0, 0,0,0,0,0,0,0,0, 0,0,0,0,0,0,0,0, 0,0,0,0,0,0,0,0, 0,0,0,0,0,0,0,0, 0,0,0,0,0,0,0,0, 0,0.4,0,0,0,0,0,0],
    [0,0,0,0,0,0,0,1.1, 0,0,0,0,0,0,0,0, 0,0,0,0,0,0,0,0, 0,0,0,0,0,0,0,0, 0,0,0,0,0,0,0,0, 0,0,0,0,0,0,0,0, 0,1.9,0.4,0,0,0,0,0, 0,0,0,0,1.0,3.1,0.4,0],
    [0,0,0,0,0,0,0,0, 0,0,0,0,0,0,0,0, 0,0,0,0,0.2,0,0,0, 0,0,0,0,0,0,0,0, 0,0,0,0,0,0,0,0, 0,0,0,0,0,0,0,0, 0,0,0,0,0,0,0,0, 0,0,0,0,0,0,0,0],
    [0,0,0,0,0,0,0,0, 0,0,0,0,0,0,0,0, 0,0,0,0,0,0,0,0.5, 0,0,0,0,0,0,0,0, 0,0,0,0,0,2.0,4.1,1.9, 0.3,0,0,0,0,0,0,0, 0,0,0,0,0,0,0,0, 0,0,0,0,0,0,1.1,0],
    [0,0,0,0,0,0,0,0, 0,0,0,0,0,0,0,0, 0,0,0,0,0,0,0,0, 0,0,0,0,0,0,0,0, 0,0.3,0,0,0,0,0,0, 0,0,0,0,0,0,0,0, 0,0,0,0,0,0,0,0, 0,0,0,0,0,0,0,0]
];

const FONT = 'DejaVu Sans Mono';
const chart = echarts.init(document.getElementById('chart'), null, {renderer: 'canvas'});

function toPairs(values, start) {
    return values.map((v, i) => [start + i * stepHours, v]);
}

function lineSeries(name, values, start, color, width, xIndex, yIndex, z) {
    const thin = width <= 1;
    return {
        type: 'line',
        name: name,
        xAxisIndex: xIndex,
        yAxisIndex: yIndex,
        data: toPairs(values, start),
        symbol: thin ? 'circle' : 'none',
        symbolSize: 2.5,
        showSymbol: thin,
        lineStyle: {color: color, width: width},
        itemStyle: {color: color},
        silent: true,
        z: z
    };
}

const series = [];
t850Perts.forEach((m, k) => series.push(lineSeries('p' + (k + 1), m, 0, memberColors[k], 1, 0, 0, 2)));
t500Perts.forEach((m, k) => series.push(lineSeries('p' + (k + 1), m, 0, memberColors[k], 1, 1, 2, 2)));
precipPerts.forEach((m, k) => series.push(lineSeries('p' + (k + 1), m, precipStart, memberColors[k], 1, 1, 3, 2)));
series.push(lineSeries('GFS', t850Gfs, 0, '#000000', 3, 0, 0, 3));
series.push(lineSeries('GFS', t500Gfs, 0, '#000000', 3, 1, 2, 3));
series.push(lineSeries('GFS', precipGfs, precipStart, '#000000', 3, 1, 3, 3));
series.push(lineSeries('Controle', t850Control, 0, '#0010ff', 3, 0, 0, 4));
series.push(lineSeries('Controle', t500Control, 0, '#0010ff', 3, 1, 2, 4));
series.push(lineSeries('Controle', precipControl, precipStart, '#0010ff', 3, 1, 3, 4));
series.push(lineSeries('Moyenne', t850Mean, 0, '#ff0000', 4, 0, 0, 5));
series.push(lineSeries('Moyenne', t500Mean, 0, '#ff0000', 4, 1, 2, 5));
series.push(lineSeries('Moyenne', precipMean, precipStart, '#ff0000', 4, 1, 3, 5));

const vGrid = {show: true, lineStyle: {color: '#b8b8b8', width: 1}};
const hGrid = {show: true, lineStyle: {color: '#c0c0c0', width: 2}};
const blackLine = {show: true, lineStyle: {color: '#000', width: 1}};
const labelBase = {fontFamily: FONT, fontSize: 10, color: '#000'};

function text(x, y, str, opts) {
    return {
        type: 'text', silent: true, z: 10,
        style: Object.assign({
            x: x, y: y, text: str, fill: '#000',
            font: '10px "' + FONT + '"',
            textAlign: 'left', align: 'left',
            textVerticalAlign: 'middle', verticalAlign: 'middle'
        }, opts || {})
    };
}

const graphics = [
    text(60, 54, 'Temp. 850hPa'),
    text(60, 268, 'Temp. 500hPa'),
    text(60, 517, 'Précipitations'),
    text(20, 607, '(°c)'),
    text(10, 622, 'Alt. 162m'),
    text(710, 607, '(mm)'),
    {type: 'rect', silent: true, shape: {x: 35, y: 635, width: 30, height: 4}, style: {fill: '#ff0000'}},
    text(75, 637, 'Moyenne des scénarios'),
    {type: 'rect', silent: true, shape: {x: 225, y: 635, width: 31, height: 4}, style: {fill: '#0010ff'}},
    text(264, 637, 'Run de contrôle'),
    {type: 'rect', silent: true, shape: {x: 225, y: 645, width: 31, height: 4}, style: {fill: '#000'}},
    text(264, 646, 'Run GFS'),
    text(340, 652, '30 Perts.'),
    text(51, 658, '\u2744', {fill: '#6ab4ee', font: '13px "DejaVu Sans"'}),
    text(75, 659, 'Risque neige'),
    {type: 'rect', silent: true, shape: {x: 20.5, y: 669.5, width: 420, height: 30}, style: {fill: 'none', stroke: '#000', lineWidth: 1.5}},
    text(30, 678, 'Diagramme des ensembles GEFS sur 384h : 40.6N 22.9E', {font: 'bold 11.6px "' + FONT + '"'}),
    text(30, 692, 'Températures 850hPa et 500hPa (°C) , précipitations (mm)'),
    text(449, 672, 'Ensemble GEFS du 12/08/2026 - 06Z'),
    text(449, 692, 'Copyright 2026 Meteociel.fr', {font: 'bold 11.6px "' + FONT + '"'})
];
memberColors.forEach((c, k) => {
    const x = 400 + k * 11;
    graphics.push({type: 'rect', silent: true, shape: {x: x, y: 650, width: 9, height: 7}, style: {fill: c}});
    graphics.push(text(x + 4.5, 644, String(k + 1).padStart(2, '0'),
        {font: 'bold 7.5px "' + FONT + '"', textAlign: 'center', align: 'center'}));
});

const option = {
    animation: false,
    backgroundColor: '#ffffff',
    textStyle: {fontFamily: FONT},
    grid: [
        {left: 50, top: 0, width: 640, height: 229},
        {left: 50, top: 231, width: 640, height: 369}
    ],
    xAxis: [
        {
            type: 'value', gridIndex: 0, min: 0, max: 384,
            axisLine: {show: false},
            axisTick: {show: false, customValues: dateHours},
            axisLabel: {show: false},
            splitLine: vGrid
        },
        {
            type: 'value', gridIndex: 1, min: 0, max: 384,
            axisLine: blackLine,
            axisTick: {show: false, customValues: dateHours},
            axisLabel: Object.assign({
                rotate: 90, margin: 2,
                customValues: dateHours.map(h => h + 4.8),
                formatter: v => dateLabels[Math.round((v - 4.8 - dateHours[0]) / 24)]
            }, labelBase),
            splitLine: vGrid
        }
    ],
    yAxis: [
        {
            type: 'value', gridIndex: 0, position: 'left', min: 0, max: 33.05,
            axisLine: blackLine,
            axisTick: {show: false, customValues: [0].concat(leftTopTicks)},
            axisLabel: Object.assign({customValues: leftTopTicks, align: 'left', margin: 30}, labelBase),
            splitLine: hGrid
        },
        {
            type: 'value', gridIndex: 0, position: 'right', min: 45, max: 78.05,
            axisLine: blackLine,
            axisTick: {show: false, customValues: rightTopTicks},
            axisLabel: Object.assign({customValues: rightTopTicks, align: 'left', margin: 18}, labelBase),
            splitLine: {show: false}
        },
        {
            type: 'value', gridIndex: 1, position: 'left', min: -52.71, max: 0,
            axisLine: blackLine,
            axisTick: {show: false, customValues: leftBottomTicks},
            axisLabel: Object.assign({customValues: leftBottomTicks, align: 'left', margin: 30}, labelBase),
            splitLine: hGrid
        },
        {
            type: 'value', gridIndex: 1, position: 'right', min: -7.71, max: 45,
            axisLine: blackLine,
            axisTick: {show: false, customValues: rightBottomTicks},
            axisLabel: Object.assign({customValues: rightBottomTicks, align: 'left', margin: 18}, labelBase),
            splitLine: {show: false}
        }
    ],
    graphic: graphics,
    series: series
};

chart.setOption(option);
</script>
</body>
</html>
